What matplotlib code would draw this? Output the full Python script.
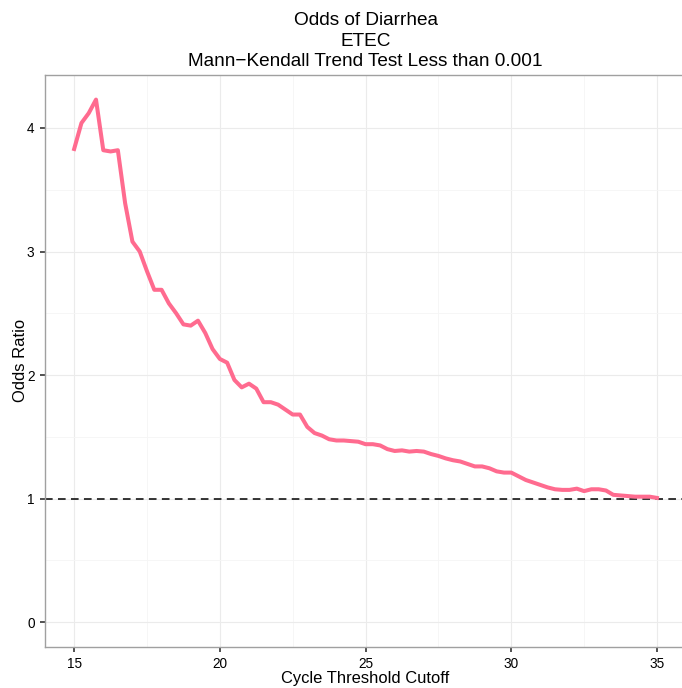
import numpy as np
import matplotlib
matplotlib.use("Agg")
from matplotlib import pyplot as plt
from matplotlib.ticker import MultipleLocator

plt.rcParams['font.family'] = ['Liberation Sans', 'DejaVu Sans']

# cycle threshold cutoffs and the odds ratio
cutoff = np.arange(15, 35.01, 0.25)
odds_ratio = [3.83, 4.04, 4.12, 4.23, 3.82, 3.81, 3.82, 3.39, 3.08, 3.00,
              2.84, 2.69, 2.69, 2.58, 2.50, 2.41, 2.40, 2.44, 2.34, 2.21,
              2.13, 2.10, 1.96, 1.90, 1.93, 1.89, 1.78, 1.78, 1.76, 1.72,
              1.68, 1.68, 1.58, 1.53, 1.51, 1.48, 1.47, 1.47, 1.465, 1.46,
              1.44, 1.44, 1.43, 1.40, 1.385, 1.39, 1.38, 1.385, 1.38, 1.36,
              1.345, 1.325, 1.31, 1.30, 1.28, 1.26, 1.26, 1.245, 1.22, 1.21,
              1.21, 1.18, 1.15, 1.13, 1.11, 1.09, 1.075, 1.07, 1.07, 1.08,
              1.06, 1.075, 1.075, 1.065, 1.03, 1.025, 1.02, 1.015, 1.015, 1.015,
              1.005]
ref_line = 1

x_ticks = [15, 20, 25, 30, 35]
y_ticks = [0, 1, 2, 3, 4]
title = "Odds of Diarrhea\nETEC\nMann\u2212Kendall Trend Test Less than 0.001"

fig = plt.figure(figsize=(6.82, 6.88), dpi=100)
ax = fig.add_axes([0.066, 0.0596, 0.94, 0.8321])

ax.plot(cutoff, odds_ratio, color="#FF6B8F", lw=2.9, solid_joinstyle="round", zorder=3)
ax.axhline(ref_line, color="black", lw=1.1, ls=(0, (5, 3.5)), zorder=2)

ax.set_xlim(14, 36)
ax.set_ylim(-0.202, 4.433)
ax.set_xticks(x_ticks)
ax.set_yticks(y_ticks)
ax.xaxis.set_minor_locator(MultipleLocator(2.5))
ax.yaxis.set_minor_locator(MultipleLocator(0.5))
ax.grid(which="major", color="#EBEBEB", lw=0.8)
ax.grid(which="minor", color="#F5F5F5", lw=0.6)
ax.set_axisbelow(True)

for side in ["left", "bottom", "top"]:
    ax.spines[side].set_color("#A0A0A0")
    ax.spines[side].set_linewidth(1.0)
ax.spines["right"].set_visible(False)

ax.tick_params(which="major", direction="out", length=3.5, width=1.2, color="#333333",
               labelsize=9.8, labelcolor="black", pad=4)
ax.tick_params(which="minor", length=0)

ax.set_xlabel("Cycle Threshold Cutoff", fontsize=11.9, labelpad=0)
ax.set_ylabel("Odds Ratio", fontsize=11.9, labelpad=-1)
ax.set_title(title, fontsize=13.7, linespacing=1.27, pad=6)

fig.savefig("out.png", dpi=100)
